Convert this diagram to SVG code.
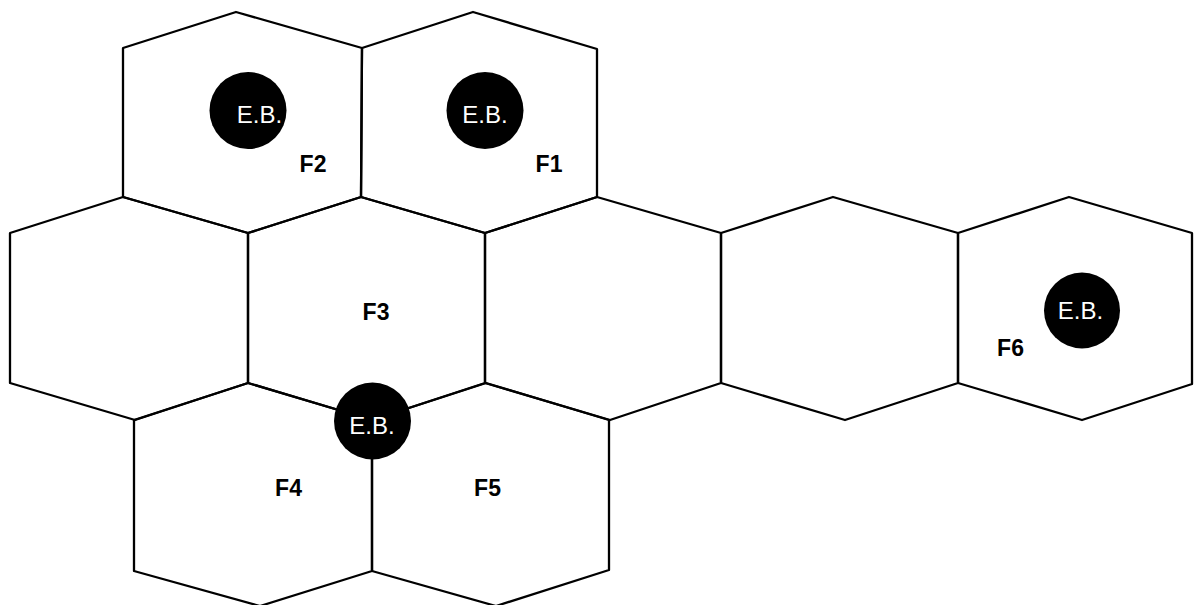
<svg xmlns="http://www.w3.org/2000/svg" width="1201" height="605" viewBox="0 0 1201 605">
  <style>
    .cell { fill: none; stroke: #000; stroke-width: 2.3; stroke-linejoin: round; }
    .eb { fill: #000; }
    .eb-text { font-family: "Liberation Sans", Arial, sans-serif; font-size: 24px; fill: #fff; text-anchor: middle; }
    .label { font-family: "Liberation Sans", Arial, sans-serif; font-size: 23px; font-weight: bold; fill: #000; text-anchor: middle; }
  </style>
  <rect width="1201" height="605" fill="#fff"/>

  <!-- top row -->
  <g id="cell-f2">
    <polygon class="cell" points="123,48 236,12 362,48 361,197 248,233 123,197"/>
    <circle class="eb" cx="248" cy="110.5" r="38.5"/>
    <text class="eb-text" x="259.5" y="123">E.B.</text>
    <text class="label" x="313" y="171.5">F2</text>
  </g>
  <g id="cell-f1">
    <polygon class="cell" points="362,48 473,12 597,49 597,197 485,233 361,197"/>
    <circle class="eb" cx="485" cy="110.5" r="38.5"/>
    <text class="eb-text" x="485" y="123">E.B.</text>
    <text class="label" x="549" y="171.5">F1</text>
  </g>

  <!-- middle row -->
  <g id="cell-left">
    <polygon class="cell" points="10,233 123,197 248,233 248,383 135,420 10,383"/>
  </g>
  <g id="cell-f3">
    <polygon class="cell" points="248,233 361,197 485,233 485,383 372,420 248,383"/>
    <text class="label" x="376" y="319.5">F3</text>
  </g>
  <g id="cell-mid-3">
    <polygon class="cell" points="485,233 597,197 721,233 721,383 610,420 485,383"/>
  </g>
  <g id="cell-mid-4">
    <polygon class="cell" points="721,233 833,197 958,233 958,383 845,420 721,383"/>
  </g>
  <g id="cell-f6">
    <polygon class="cell" points="958,233 1069,197 1192,233 1192,384 1082,420 958,383"/>
    <circle class="eb" cx="1082" cy="310.5" r="38"/>
    <text class="eb-text" x="1080.5" y="318.5">E.B.</text>
    <text class="label" x="1010.5" y="355.5">F6</text>
  </g>

  <!-- bottom row -->
  <g id="cell-f4">
    <polygon class="cell" points="134,420 248,383 372,420 372,571 260,606 134,571"/>
    <text class="label" x="288.5" y="496">F4</text>
  </g>
  <g id="cell-f5">
    <polygon class="cell" points="372,420 486,383 609,420 609,570 496,606 372,571"/>
    <text class="label" x="487.5" y="496">F5</text>
  </g>

  <!-- shared E.B. where F3, F4 and F5 meet -->
  <g id="eb-f3-f4-f5">
    <circle class="eb" cx="372.5" cy="421" r="38.5"/>
    <text class="eb-text" x="372" y="433.5">E.B.</text>
  </g>
</svg>
